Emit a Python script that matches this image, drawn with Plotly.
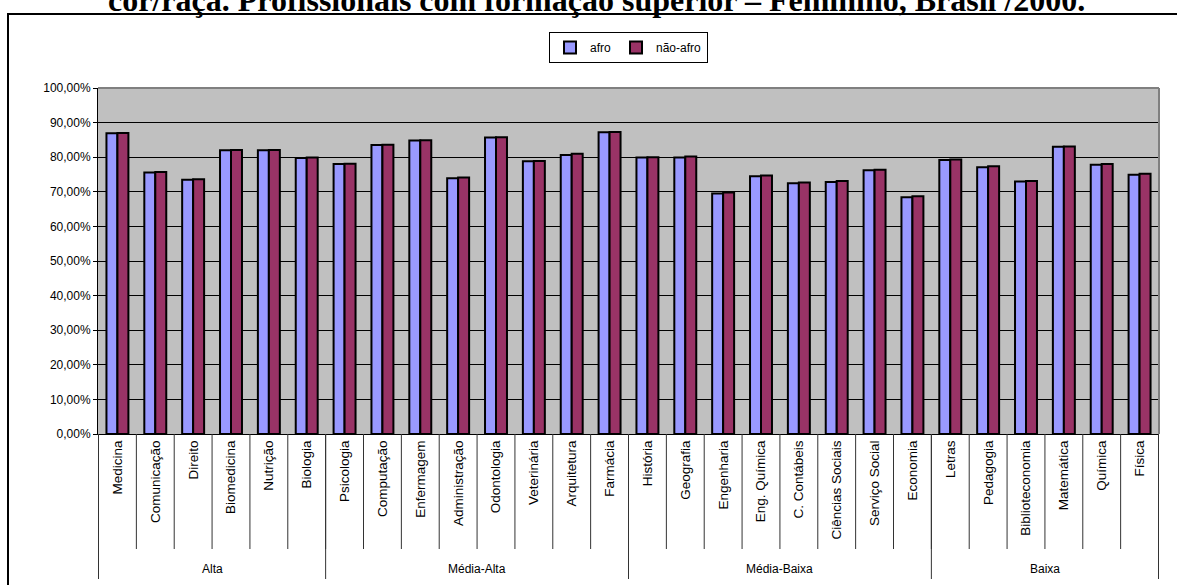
import plotly.graph_objects as go

categories = ["Medicina", "Comunicação", "Direito", "Biomedicina", "Nutrição", "Biologia",
              "Psicologia", "Computação", "Enfermagem", "Administração", "Odontologia",
              "Veterinária", "Arquitetura", "Farmácia",
              "História", "Geografia", "Engenharia", "Eng. Química", "C. Contábeis",
              "Ciências Sociais", "Serviço Social", "Economia",
              "Letras", "Pedagogia", "Biblioteconomia", "Matemática", "Química", "Física"]
afro = [0.869, 0.756, 0.735, 0.820, 0.820, 0.798,
        0.780, 0.835, 0.848, 0.739, 0.857, 0.788, 0.806, 0.872,
        0.799, 0.799, 0.695, 0.745, 0.725, 0.728, 0.762, 0.684,
        0.792, 0.771, 0.730, 0.830, 0.778, 0.749]
nao_afro = [0.870, 0.757, 0.736, 0.821, 0.821, 0.799,
            0.781, 0.836, 0.849, 0.741, 0.858, 0.789, 0.810, 0.873,
            0.800, 0.802, 0.698, 0.747, 0.727, 0.731, 0.764, 0.687,
            0.793, 0.774, 0.731, 0.831, 0.780, 0.752]
groups = ["Alta", "Média-Alta", "Média-Baixa", "Baixa"]
group_sizes = [6, 8, 8, 6]
title_text = "cor/raça. Profissionais com formação superior – Feminino, Brasil /2000."

W, H = 1177, 585
ML, MR, MT, MB = 98, 18, 88, 151
PW = W - ML - MR
PH = H - MT - MB

def px_x(p):
    return (p - ML) / PW

def px_y(p):
    return (H - MB - p) / PH

fig = go.Figure()
fig.add_trace(go.Bar(x=categories, y=afro, name="afro",
                     marker=dict(color="#9999FF", line=dict(color="black", width=2))))
fig.add_trace(go.Bar(x=categories, y=nao_afro, name="não-afro",
                     marker=dict(color="#993366", line=dict(color="black", width=2))))

shapes = []
n = len(categories)
for i in range(n + 1):
    shapes.append(dict(type="line", xref="x", yref="paper", x0=i - 0.5, x1=i - 0.5,
                       y0=0, y1=px_y(549), line=dict(color="#333333", width=1)))
annotations = []
start = 0
bounds = [0]
for g, s in zip(groups, group_sizes):
    annotations.append(dict(text=g, xref="x", yref="paper", x=start + s / 2 - 0.5,
                            y=px_y(569), showarrow=False, yanchor="middle",
                            font=dict(family="Liberation Sans, Arial", size=12, color="black")))
    start += s
    bounds.append(start)
for b in bounds:
    shapes.append(dict(type="line", xref="x", yref="paper", x0=b - 0.5, x1=b - 0.5,
                       y0=0, y1=px_y(579), line=dict(color="#333333", width=1)))
shapes.append(dict(type="line", xref="paper", yref="paper", x0=0, x1=1, y0=1, y1=1,
                   line=dict(color="#808080", width=2), layer="above"))
shapes.append(dict(type="line", xref="paper", yref="paper", x0=1, x1=1, y0=0, y1=1,
                   line=dict(color="#808080", width=2), layer="above"))
shapes.append(dict(type="rect", xref="paper", yref="paper",
                   x0=px_x(8), x1=px_x(1190), y0=px_y(600), y1=px_y(14),
                   line=dict(color="black", width=2), fillcolor="rgba(0,0,0,0)"))

annotations.append(dict(text="<b>" + title_text + "</b>", xref="paper", yref="paper",
                        x=px_x(596), y=px_y(20), xanchor="center", yanchor="bottom",
                        showarrow=False,
                        font=dict(family="Liberation Serif, Times New Roman", size=32, color="black")))

fig.update_layout(
    width=W, height=H,
    margin=dict(l=ML, r=MR, t=MT, b=MB, autoexpand=False),
    paper_bgcolor="white", plot_bgcolor="#C0C0C0",
    barmode="group", bargap=0.42, bargroupgap=0,
    separators=",.",
    font=dict(family="Liberation Sans, Arial", size=12, color="black"),
    shapes=shapes, annotations=annotations,
    legend=dict(orientation="h", x=0.5, xanchor="center", y=px_y(32), yanchor="top",
                bordercolor="black", borderwidth=1, bgcolor="white",
                font=dict(size=12), itemwidth=30),
    xaxis=dict(type="category", tickangle=-90, showline=True, linecolor="black", linewidth=1,
               showgrid=False, ticks="", tickfont=dict(size=13.5), fixedrange=True),
    yaxis=dict(range=[0, 1], tickvals=[i / 10 for i in range(11)], tickformat=".2%",
               showline=True, linecolor="black", linewidth=1, ticks="outside", ticklen=4,
               tickcolor="black", showgrid=True, gridcolor="black", gridwidth=1,
               zeroline=False, tickfont=dict(size=12)),
)

fig.write_html("out.html")
